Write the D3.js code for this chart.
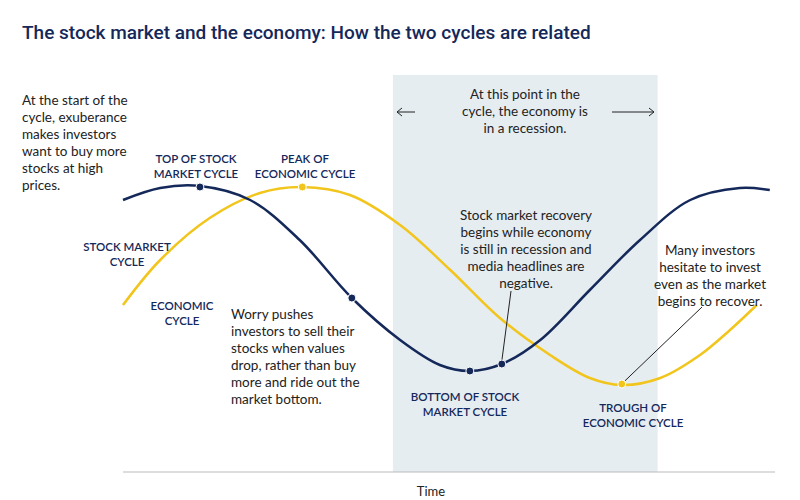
<!DOCTYPE html>
<html><head><meta charset="utf-8">
<script src="https://cdn.jsdelivr.net/npm/d3@7"></script>
<style>body{margin:0;background:#fff}</style>
</head><body><div id="chart"></div>
<script>
// Cycle data (time 0-100, level 0-110)
const stockTime = [0, 5.7, 11.8, 19.5, 27.1, 35.1, 42.5, 48.6, 53.2, 58.1, 64, 71.6, 79.3, 87, 94.6, 99.2];
const stockLevel = [100, 106, 107, 100, 80, 51, 30, 17.5, 14.5, 18, 30, 55, 80, 100, 106, 105];
const econTime = [0, 5.7, 13.3, 21, 27.5, 34.8, 42.5, 50.2, 57.8, 65.5, 71.6, 76.5, 82.4, 88.5, 93.1, 97.2];
const econLevel = [47.5, 70, 91, 103.5, 106.5, 102.5, 87.5, 65, 41, 22.5, 11, 7.5, 11, 22.5, 35, 47.5];
const stockMarks = [[11.8, 106.5], [35.1, 51], [53.2, 14.5], [58.1, 18]];
const econMarks = [[27.5, 106.5], [76.5, 8]];
const recession = [41.4, 82];

const width = 800, height = 500;
const navy = "#14285a", gold = "#f2c51c", ink = "#222";
const svg = d3.select("#chart").append("svg").attr("width", width).attr("height", height)
    .style("font-family", "Lato, 'Open Sans', sans-serif");

const x = d3.scaleLinear().domain([0, 100]).range([123, 775]);
const y = d3.scaleLinear().domain([0, 110]).range([400, 180]);

svg.append("rect").attr("x", x(recession[0])).attr("y", 75)
    .attr("width", x(recession[1]) - x(recession[0])).attr("height", 397).attr("fill", "#e6edf1");

svg.append("line").attr("x1", 123).attr("x2", 775).attr("y1", 472).attr("y2", 472).attr("stroke", "#bbb");
svg.append("text").attr("x", 431).attr("y", 496).attr("text-anchor", "middle")
    .attr("font-size", 13).attr("fill", ink).text("Time");

svg.append("text").attr("x", 22).attr("y", 39).attr("font-size", 19).attr("fill", navy)
    .attr("font-weight", 500).attr("font-family", "Roboto, sans-serif")
    .text("The stock market and the economy: How the two cycles are related");

const line = d3.line().x(d => x(d[0])).y(d => y(d[1])).curve(d3.curveCatmullRom);
svg.append("path").datum(d3.zip(econTime, econLevel)).attr("d", line)
    .attr("fill", "none").attr("stroke", gold).attr("stroke-width", 2.5);
svg.append("path").datum(d3.zip(stockTime, stockLevel)).attr("d", line)
    .attr("fill", "none").attr("stroke", navy).attr("stroke-width", 2.5);

// pointer lines
svg.append("line").attr("x1", 511).attr("y1", 291).attr("x2", x(58.1)).attr("y2", y(18) - 3).attr("stroke", ink);
svg.append("line").attr("x1", 702).attr("y1", 307).attr("x2", x(76.5) + 3).attr("y2", y(8) - 3).attr("stroke", ink);

svg.selectAll(".sm").data(stockMarks).enter().append("circle")
    .attr("cx", d => x(d[0])).attr("cy", d => y(d[1])).attr("r", 4)
    .attr("fill", navy).attr("stroke", "#fff").attr("stroke-width", 1);
svg.selectAll(".em").data(econMarks).enter().append("circle")
    .attr("cx", d => x(d[0])).attr("cy", d => y(d[1])).attr("r", 4)
    .attr("fill", gold).attr("stroke", "#fff").attr("stroke-width", 1);

function block(lines, px, py, anchor, opts) {
    const t = svg.append("text").attr("x", px).attr("y", py).attr("text-anchor", anchor)
        .attr("font-size", opts.size).attr("fill", opts.color).attr("font-weight", opts.weight || 400);
    lines.forEach((l, i) => t.append("tspan").attr("x", px).attr("dy", i ? opts.lh : 0).text(l));
}
const note = {size: 13.5, color: ink, lh: 17};
const lab = {size: 11.5, color: navy, lh: 15, weight: 600};

block(["At the start of the", "cycle, exuberance", "makes investors", "want to buy more", "stocks at high", "prices."], 22, 105, "start", note);
block(["At this point in the", "cycle, the economy is", "in a recession."], 525, 99, "middle", note);
block(["Stock market recovery", "begins while economy", "is still in recession and", "media headlines are", "negative."], 526, 220, "middle", note);
block(["Many investors", "hesitate to invest", "even as the market", "begins to recover."], 710, 255, "middle", note);
block(["Worry pushes", "investors to sell their", "stocks when values", "drop, rather than buy", "more and ride out the", "market bottom."], 231, 319, "start", note);

block(["TOP OF STOCK", "MARKET CYCLE"], 196, 163, "middle", lab);
block(["PEAK OF", "ECONOMIC CYCLE"], 305, 163, "middle", lab);
block(["STOCK MARKET", "CYCLE"], 127, 251, "middle", lab);
block(["ECONOMIC", "CYCLE"], 182, 310, "middle", lab);
block(["BOTTOM OF STOCK", "MARKET CYCLE"], 465, 401, "middle", lab);
block(["TROUGH OF", "ECONOMIC CYCLE"], 633, 412, "middle", lab);

// arrows
[[415, 397], [612, 654]].forEach(a => {
    svg.append("line").attr("x1", a[0]).attr("x2", a[1]).attr("y1", 112).attr("y2", 112).attr("stroke", ink);
    const d = a[1] > a[0] ? -1 : 1;
    svg.append("path").attr("d", `M${a[1] + d * 5},108 L${a[1]},112 L${a[1] + d * 5},116`)
        .attr("fill", "none").attr("stroke", ink);
});
</script></body></html>
